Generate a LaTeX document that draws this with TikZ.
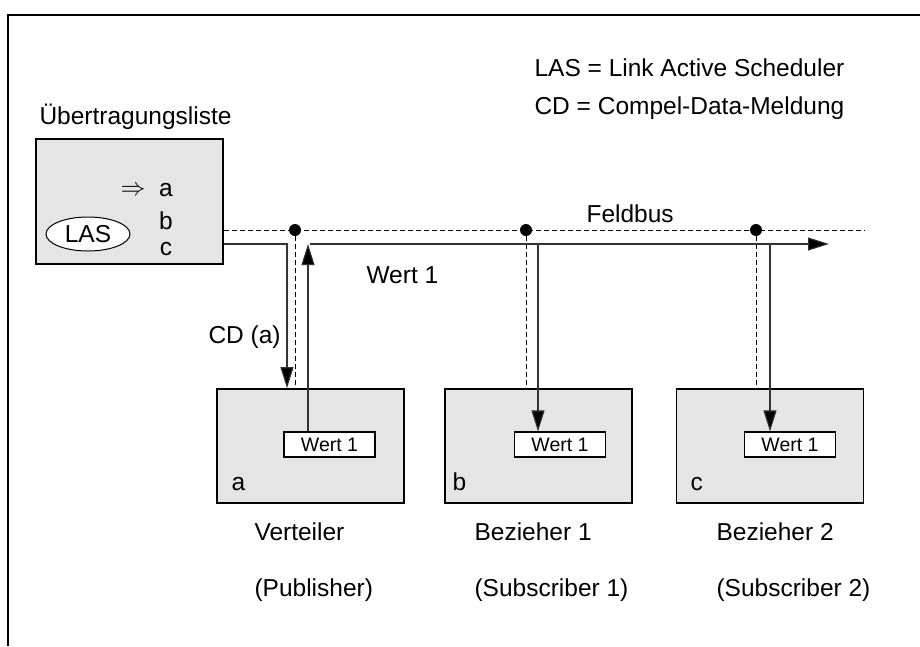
\documentclass[tikz,border=0pt]{standalone}
\usepackage{fontspec}
\setmainfont{Liberation Sans}
\usetikzlibrary{arrows.meta,shapes.geometric}

\tikzset{
  station/.style={draw,line width=1.6pt,fill=black!10,minimum width=187pt,minimum height=114pt,inner sep=0pt},
  wertbox/.style={draw,line width=1.2pt,fill=white,minimum width=91pt,minimum height=25pt,inner sep=0pt,font=\fontsize{19.5}{22}\selectfont},
  bus/.style={line width=0.9pt,dash pattern=on 5pt off 3pt},
  signal/.style={line width=1.1pt,draw=black!80,-{Triangle[length=21pt,width=13pt,fill=black]}},
  tap/.style={circle,fill,inner sep=0pt,minimum size=12pt},
}

\begin{document}
\begin{tikzpicture}[x=1pt,y=-1pt,every node/.style={font=\fontsize{24.5}{28}\selectfont}]
  \useasboundingbox (0,0) rectangle (920,646);
  \draw[line width=1.6pt] (920,15) -- (8,15) -- (8,646);

  % legend
  \node[anchor=base west] (leg1) at (531,76) {LAS = Link Active Scheduler};
  \node[anchor=base west] (leg2) at (531,114) {CD = Compel-Data-Meldung};

  % transmission list with scheduler
  \node[station,minimum height=125pt] (liste) at (129.5,201.5) {};
  \node[anchor=base west] (titel) at (36,124) {Übertragungsliste};
  \node[ellipse,draw,fill=white,line width=1pt,minimum width=84pt,minimum height=34pt,inner sep=0pt] (las) at (88,234) {LAS};
  \node (pfeil) at (133,191) {$\Rightarrow$};
  \node[anchor=base] (la) at (166,196) {a};
  \node[anchor=base] (lb) at (166,229) {b};
  \node[anchor=base] (lc) at (166,255) {c};

  % stations
  \node[station] (sa) at (310.5,446) {};
  \node[station] (sb) at (538.5,446) {};
  \node[station] (sc) at (770,446) {};
  \node[wertbox] (wa) at (329.5,444.5) {Wert 1};
  \node[wertbox] (wb) at (560,444.5) {Wert 1};
  \node[wertbox] (wc) at (790,444.5) {Wert 1};
  \node[anchor=base west] (na) at (228,490) {a};
  \node[anchor=base west] (nb) at (449,490) {b};
  \node[anchor=base west] (nc) at (687,490) {c};
  \node[anchor=base west] (ta) at (251,540) {Verteiler};
  \node[anchor=base west] (pa) at (251,596) {(Publisher)};
  \node[anchor=base west] (tb) at (471,540) {Bezieher 1};
  \node[anchor=base west] (pb) at (471,596) {(Subscriber 1)};
  \node[anchor=base west] (tc) at (713,540) {Bezieher 2};
  \node[anchor=base west] (pc) at (713,596) {(Subscriber 2)};

  % field bus
  \node[tap] (d1) at (295,230) {};
  \node[tap] (d2) at (526,230) {};
  \node[tap] (d3) at (756,230) {};
  \coordinate (busend) at (865,230);
  \draw[bus] (liste.east |- d1) -- (busend);
  \draw[bus] (d1) -- (d1 |- sa.north);
  \draw[bus] (d2) -- (d2 |- sb.north);
  \draw[bus] (d3) -- (d3 |- sc.north);
  \node[anchor=base west] (feldbus) at (583,222) {Feldbus};

  % messages
  \coordinate (wstart) at (310,244);
  \coordinate (wend) at (829,244);
  \draw[signal] ([yshift=-42.5pt]liste.east) -| ([xshift=-23.5pt]sa.north);
  \node[anchor=base west] (cd) at (205,343) {CD (a)};
  \draw[signal] ([xshift=-21.5pt]wa.north) -- ([xshift=-21.5pt]wa.north |- wstart);
  \draw[signal] (wstart) -- (wend);
  \node[anchor=base west] (wert) at (363,283) {Wert 1};
  \draw[signal] ([xshift=-22pt]wb.north |- wstart) -- ([xshift=-22pt]wb.north);
  \draw[signal] ([xshift=-20pt]wc.north |- wstart) -- ([xshift=-20pt]wc.north);
\end{tikzpicture}
\end{document}
